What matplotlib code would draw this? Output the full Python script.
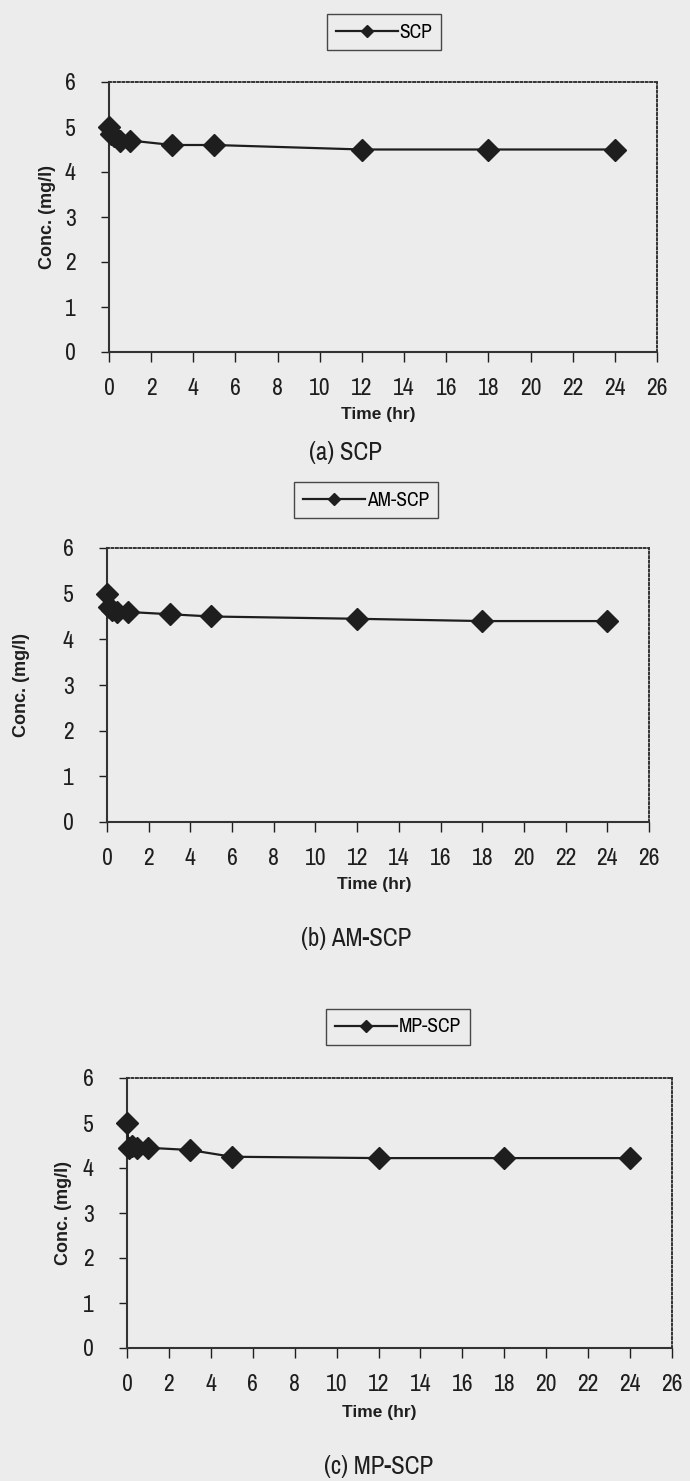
import matplotlib
matplotlib.use("Agg")
import matplotlib.pyplot as plt

NARROW = ["Archivo Narrow", "Liberation Sans", "DejaVu Sans"]
BOLD = ["Liberation Sans", "DejaVu Sans"]
plt.rcParams['font.family'] = NARROW

# sampling times (hr)
time_hr = [0, 0.083, 0.25, 0.5, 1, 3, 5, 12, 18, 24]

# concentrations (mg/l)
scp = [5.0, 4.85, 4.8, 4.7, 4.7, 4.6, 4.6, 4.5, 4.5, 4.5]
am_scp = [5.0, 4.7, 4.65, 4.6, 4.6, 4.55, 4.5, 4.45, 4.4, 4.4]
mp_scp = [5.0, 4.45, 4.5, 4.45, 4.45, 4.4, 4.25, 4.22, 4.22, 4.22]

series_names = ["SCP", "AM-SCP", "MP-SCP"]
captions = ["(a) SCP", "(b) AM-SCP", "(c) MP-SCP"]
x_ticks = list(range(0, 27, 2))
y_ticks = list(range(0, 7))

W, H = 690, 1481
BG = "#ececec"
INK = "#1e1e1e"

# layout in pixels from the top-left corner
panels = [
    dict(box=(109, 82, 657, 352), leg=(384, 32), ylab=(48, 217),
         xlab=(378, 415), cap=(345, 452)),
    dict(box=(107, 548, 649, 822), leg=(366, 500), ylab=(22, 685),
         xlab=(374, 885), cap=(356, 938)),
    dict(box=(127, 1078, 672, 1348), leg=(398, 1027), ylab=(64, 1213),
         xlab=(379, 1413), cap=(379, 1467)),
]


def px(x, y):
    return x / W, 1 - y / H


fig = plt.figure(figsize=(W / 100, H / 100), dpi=100, facecolor=BG)

for p, name, cap, vals in zip(panels, series_names, captions, [scp, am_scp, mp_scp]):
    l, t, r, b = p["box"]
    ax = fig.add_axes([l / W, 1 - b / H, (r - l) / W, (b - t) / H])
    ax.set_facecolor(BG)
    line, = ax.plot(time_hr, vals, color=INK, lw=1.6, marker="D",
                    markersize=11, markerfacecolor=INK, markeredgecolor=INK,
                    clip_on=False, zorder=5)
    ax.set_xlim(0, 26)
    ax.set_ylim(0, 6)
    ax.set_xticks(x_ticks)
    ax.set_yticks(y_ticks)
    ax.tick_params(axis="both", labelsize=17, width=1.0, colors=INK,
                   direction="out")
    ax.tick_params(axis="x", length=7, pad=12)
    ax.tick_params(axis="y", length=6, pad=18)
    for side in ["left", "bottom"]:
        ax.spines[side].set_linewidth(1.5)
        ax.spines[side].set_color("#333333")
    for side in ["top", "right"]:
        ax.spines[side].set_linestyle((0, (1, 1.3)))
        ax.spines[side].set_linewidth(1.4)
        ax.spines[side].set_color("#333333")

    fig.text(*px(*p["xlab"]), "Time (hr)", fontsize=12.5, fontweight="bold",
             family=BOLD, ha="center", va="center", color=INK)
    fig.text(*px(*p["ylab"]), "Conc. (mg/l)", fontsize=13, fontweight="bold",
             family=BOLD, ha="center", va="center", rotation=90, color=INK)

    leg = fig.legend([line], [name], loc="center",
                     bbox_to_anchor=px(*p["leg"]), fontsize=14,
                     frameon=True, fancybox=False, handlelength=3.2,
                     markerscale=0.55, borderpad=0.45, handletextpad=0.1,
                     borderaxespad=0)
    leg.get_frame().set_edgecolor(INK)
    leg.get_frame().set_linewidth(1.0)
    leg.get_frame().set_facecolor(BG)

    fig.text(*px(*p["cap"]), cap, ha="center", va="center", fontsize=18,
             color=INK)

fig.savefig("out.png", dpi=100, facecolor=BG)
